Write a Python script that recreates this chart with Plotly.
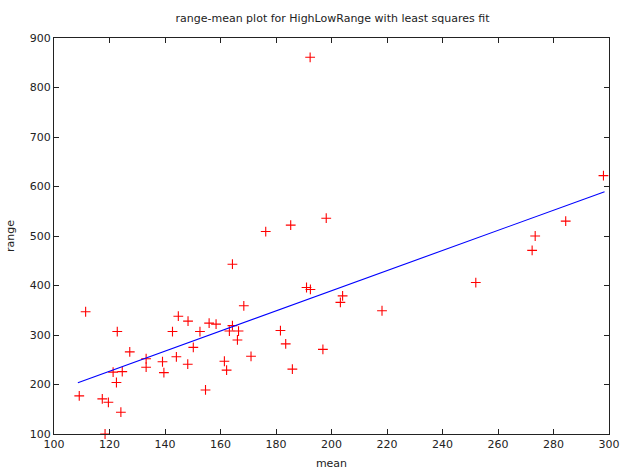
import plotly.graph_objects as go

# data points (mean, range)
mean_vals = [111.4, 122.8, 127.3, 109.1, 117.4, 119.6, 118.4, 124.1, 121.3, 124.6,
             122.5, 133.2, 133.2, 139.1, 139.6, 142.7, 144.8, 148.3, 144.1, 148.2,
             150.2, 152.6, 155.9, 158.4, 154.6, 161.4, 162.2, 163.2, 164.3, 164.3,
             166.5, 166.1, 168.4, 171.0, 176.3, 181.6, 183.5, 185.3, 185.9, 196.9,
             198.1, 191.0, 192.4, 192.3, 203.2, 204.0, 218.2, 252.0, 272.3, 273.4,
             284.4, 298.0]
range_vals = [347, 307, 266, 177, 171, 164, 100, 144, 225, 226,
              204, 252, 235, 246, 224, 307, 338, 328, 256, 241,
              275, 307, 324, 322, 189, 247, 229, 308, 319, 443,
              308, 290, 359, 257, 509, 309, 282, 522, 231, 271,
              536, 396, 392, 861, 366, 379, 349, 406, 471, 500,
              530, 622]

# least squares fit line endpoints
fit_x = [108.6, 298.4]
fit_y = [203.6, 589.5]

x_ticks = [100, 120, 140, 160, 180, 200, 220, 240, 260, 280, 300]
y_ticks = [100, 200, 300, 400, 500, 600, 700, 800, 900]

font_family = "DejaVu Sans"

fig = go.Figure()
fig.add_trace(go.Scatter(
    x=mean_vals, y=range_vals, mode="markers",
    marker=dict(symbol="cross-thin", size=7, line=dict(color="red", width=1.1), color="red"),
    showlegend=False, cliponaxis=False))
fig.add_trace(go.Scatter(
    x=fit_x, y=fit_y, mode="lines",
    line=dict(color="blue", width=1.1), showlegend=False))

axis_common = dict(
    showgrid=False, zeroline=False, showline=True, linecolor="#222", linewidth=1.3,
    mirror="ticks", ticks="inside", ticklen=5, tickcolor="#222", tickwidth=1,
    automargin=False,
    tickfont=dict(family=font_family, size=11, color="#222"))

fig.update_layout(
    width=625, height=474,
    margin=dict(l=53.5, r=16, t=38, b=40),
    paper_bgcolor="white", plot_bgcolor="white",
    font=dict(family=font_family, size=11, color="#222"),
    title=dict(text="range-mean plot for HighLowRange with least squares fit",
               x=0.532, xanchor="center", y=0.962, yanchor="middle",
               font=dict(family=font_family, size=11, color="#222")),
    xaxis=dict(range=[100, 300], tickvals=x_ticks, ticktext=[str(v) for v in x_ticks],
               title=dict(text="mean", standoff=8, font=dict(family=font_family, size=11)),
               **axis_common),
    yaxis=dict(range=[100, 900], tickvals=y_ticks, ticktext=[str(v) for v in y_ticks],
               title=dict(text="range", standoff=12, font=dict(family=font_family, size=11)),
               **axis_common),
)

fig.write_html("out.html")
